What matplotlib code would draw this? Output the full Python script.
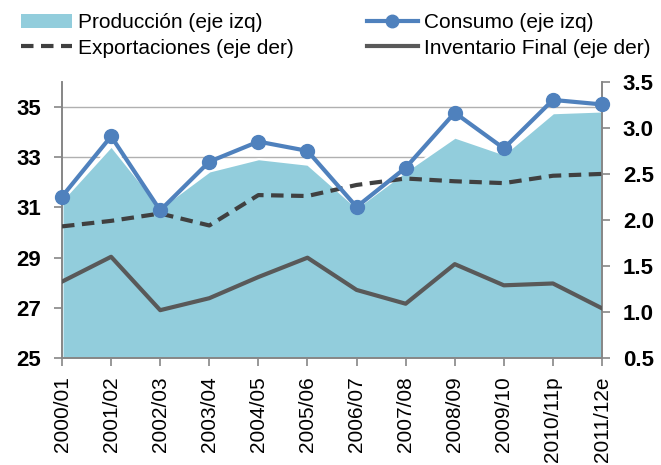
import numpy as np
import matplotlib
matplotlib.use('Agg')
import matplotlib.pyplot as plt
from matplotlib.lines import Line2D
from matplotlib.patches import Patch

plt.rcParams['font.family'] = ['Liberation Sans', 'DejaVu Sans']

# data
campanas = ['2000/01', '2001/02', '2002/03', '2003/04', '2004/05', '2005/06',
            '2006/07', '2007/08', '2008/09', '2009/10', '2010/11p', '2011/12e']
produccion = [31.3, 33.45, 31.0, 32.45, 32.94, 32.72, 31.0, 32.45, 33.8, 33.13, 34.77, 34.84]
consumo = [31.43, 33.83, 30.88, 32.82, 33.62, 33.25, 31.02, 32.58, 34.77, 33.35, 35.28, 35.1]
exportaciones = [1.93, 1.99, 2.07, 1.94, 2.27, 2.26, 2.38, 2.45, 2.42, 2.40, 2.48, 2.50]
inventario = [1.33, 1.60, 1.02, 1.15, 1.38, 1.59, 1.24, 1.09, 1.52, 1.29, 1.31, 1.04]

izq_ticks = [25, 27, 29, 31, 33, 35]
der_ticks = [0.5, 1.0, 1.5, 2.0, 2.5, 3.0, 3.5]

c_prod = '#92CDDC'
c_cons = '#4F81BD'
c_exp = '#404040'
c_inv = '#595959'
c_axis = '#868686'

fig = plt.figure(figsize=(6.61, 4.65), dpi=100)
ax = fig.add_axes([0.0938, 0.230, 0.817, 0.594])
ax2 = ax.twinx()

x = np.arange(len(campanas))

# left axis: area (bottom layer)
ax.fill_between(x, 25, produccion, facecolor=c_prod, edgecolor='white', lw=1.5, zorder=2)
ax.set_ylim(25, 36)
ax.set_yticks(izq_ticks)
ax.set_xlim(0, len(campanas) - 1)
ax.set_xticks(x)
ax.set_xticklabels(campanas, rotation=90, fontsize=15)
ax.yaxis.grid(True, color='#B0B0B0', lw=1)
ax.set_axisbelow(True)

# right axis lines, then consumo on top (left-axis scale)
ax2.plot(x, exportaciones, color=c_exp, lw=3, ls=(0, (3, 1.8)), zorder=3)
ax2.plot(x, inventario, color=c_inv, lw=3, zorder=3)
ax2.set_ylim(0.5, 3.5)
ax2.set_yticks(der_ticks)
ax2.set_yticklabels(['%.1f' % v for v in der_ticks])
ax2.plot(x, consumo, color=c_cons, lw=3, marker='o', ms=10,
         transform=ax.transData, zorder=5, clip_on=False)

for a in (ax, ax2):
    a.spines['top'].set_visible(False)
    for s in ('left', 'right', 'bottom'):
        a.spines[s].set_color(c_axis)
        a.spines[s].set_linewidth(1.2)
    a.tick_params(colors=c_axis, width=1.2, length=6, pad=9)
    a.tick_params(axis='y', labelcolor='black', labelsize=16)
    a.tick_params(axis='x', labelcolor='black', pad=7)
for lab in ax.get_yticklabels() + ax2.get_yticklabels():
    lab.set_fontweight('bold')

handles = [
    Patch(facecolor=c_prod, edgecolor='none'),
    Line2D([], [], color=c_exp, lw=3, ls=(0, (3, 1.8))),
    Line2D([], [], color=c_cons, lw=3, marker='o', ms=9),
    Line2D([], [], color=c_inv, lw=3),
]
labels = ['Producción (eje izq)', 'Exportaciones (eje der)',
          'Consumo (eje izq)', 'Inventario Final (eje der)']
fig.legend(handles, labels, ncol=2, loc='upper left', bbox_to_anchor=(0.025, 0.98),
           frameon=False, fontsize=15, handlelength=2.45, handletextpad=0.3,
           columnspacing=3.5, labelspacing=0.3, numpoints=1,
           borderaxespad=0, borderpad=0.2)

fig.savefig('out.png', dpi=100)
